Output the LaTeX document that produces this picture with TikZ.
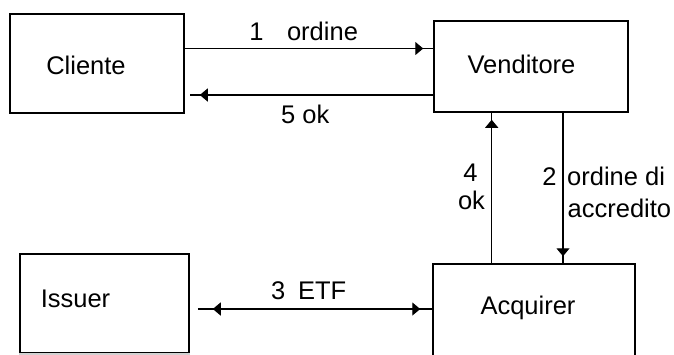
\documentclass[tikz,border=0pt]{standalone}
\usepackage{fontspec}
\setmainfont{Liberation Sans}
\usetikzlibrary{arrows.meta,decorations.markings}
\tikzset{
  mytip/.tip={Triangle[length=8pt,width=13pt]},
  box/.style={draw=black,line width=1.5pt,inner sep=0pt},
  lbl/.style={font=\fontsize{25.5}{30}\selectfont,inner sep=0pt,anchor=base},
  lblw/.style={lbl,anchor=base west},
  conn/.style={draw=black,line width=1.4pt},
  tipat/.style={postaction={decorate},decoration={markings,mark=at position #1 with {\arrow{mytip}}}},
  tipboth/.style 2 args={postaction={decorate},decoration={markings,
      mark=at position #1 with {\arrowreversed{mytip}},
      mark=at position #2 with {\arrow{mytip}}}}
}
\begin{document}
\begin{tikzpicture}[x=1pt,y=-1pt]
\clip (0,0) rectangle (674,354);
\fill[white] (0,0) rectangle (674,354);
% boxes
\node[box,minimum width=174pt,minimum height=99pt] (cliente) at (97,63.5) {};
\node[box,minimum width=194pt,minimum height=91pt] (venditore) at (531,66.5) {};
\node[box,minimum width=169pt,minimum height=99pt] (issuer) at (104.5,303.5) {};
\node[box,minimum width=202pt,minimum height=120pt] (acquirer) at (534,324) {};
\draw[gray!35,line width=1.7pt] (issuer.south west) -- (issuer.south east);
% box texts
\node[lbl] (cliente-t) at (86,74) {Cliente};
\node[lbl] (venditore-t) at (521.5,73.5) {Venditore};
\node[lbl] (issuer-t) at (75.5,307) {Issuer};
\node[lbl] (acquirer-t) at (528,314.5) {Acquirer};
% connectors
\draw[conn,tipat=-10pt] ([yshift=15pt]cliente.east) -- ([yshift=18pt]venditore.west);
\draw[conn,tipat=-10pt] ([yshift=-28.5pt]venditore.west) -- ([xshift=5pt,yshift=-31.5pt]cliente.east);
\draw[conn,tipat=-7pt] ([xshift=-42.3pt]acquirer.north) -- ([xshift=-39.3pt]venditore.south);
\draw[conn,tipat=-7pt] ([xshift=32pt]venditore.south) -- ([xshift=29pt]acquirer.north);
\draw[conn,tipboth={15pt}{-12pt}] ([xshift=8pt,yshift=-5.5pt]issuer.east) -- ([yshift=15pt]acquirer.west);
% connector labels
\node[lblw] (l1) at (249.2,40) {1\hspace{23.5pt}ordine};
\node[lblw] (l5) at (281,123.5) {5 ok};
\node[lbl] (l4a) at (470.5,181) {4};
\node[lbl] (l4b) at (471.5,209) {ok};
\node[lbl] (l2a) at (549.5,185) {2};
\node[lblw] (l2b) at (567,185) {ordine di};
\node[lblw] (l2c) at (567.5,217) {accredito};
\node[lblw] (l3) at (271,299) {3\hspace{12.8pt}ETF};
\end{tikzpicture}
\end{document}
